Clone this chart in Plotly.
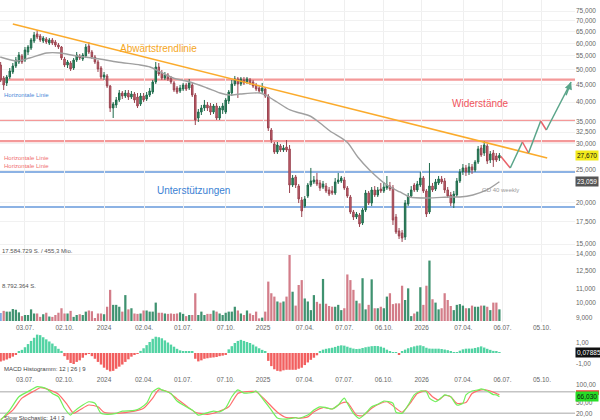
import math
import pandas as pd
import plotly.graph_objects as go

# ---------------- data ----------------
dates = pd.date_range("2023-05-08", periods=165, freq="7D")

opens = [51650, 47220, 45630, 47550, 49220, 51290, 52740, 54970, 53470, 56500,
         58080, 60970, 63980, 63090, 60970, 61800, 60130, 61390, 60550, 59300,
         58490, 53840, 51650, 52370, 50590, 53470, 54970, 53840, 54970, 58890,
         56500, 54590, 52740, 50590, 47550, 47880, 44680, 38390, 39190, 40570,
         42570, 41700, 42570, 41410, 42270, 41410, 39460, 41700, 40840, 41990,
         42860, 45940, 50940, 48880, 47220, 48210, 47220, 45630, 44070, 43160,
         43760, 44990, 44070, 44990, 41990, 35820, 37340, 38390, 39190, 38920,
         37340, 38920, 35820, 37860, 37340, 40290, 42570, 45310, 46890, 45310,
         46580, 45940, 46580, 45940, 44990, 44070, 43160, 43760, 41700, 32970,
         29930, 28330, 29530, 28720, 29320, 28920, 22550, 23840, 22390, 20330,
         19500, 20900, 22550, 23030, 23350, 22870, 22240, 22390, 21790, 21640,
         21340, 23030, 23190, 23350, 22090, 20760, 18720, 18080, 18330, 17350,
         18980, 21340, 19910, 21790, 21050, 21930, 21640, 22090, 22390, 22090,
         18080, 16420, 16190, 15750, 19780, 20900, 22550, 21790, 22550, 23670,
         21640, 18720, 22390, 21930, 22870, 23510, 23190, 21790, 21050, 19910,
         21050, 23190, 24680, 25370, 24680, 25550, 25020, 26430, 29120, 28130,
         29530, 26800, 28130, 27560, 27180]

closes = [46580, 44990, 47550, 49560, 51290, 53470, 55350, 52740, 57290, 58490,
          61390, 63530, 62660, 61390, 62230, 60550, 61390, 60130, 59300, 58490,
          54220, 51650, 52740, 50240, 53470, 55350, 54220, 55350, 58490, 56500,
          54590, 52740, 50240, 47550, 48210, 44680, 38390, 39460, 40570, 42570,
          41700, 42570, 41410, 42270, 40570, 38920, 41700, 40570, 41990, 43160,
          45940, 50940, 48540, 47220, 48210, 46890, 45940, 43460, 42860, 44070,
          44990, 43760, 45630, 41990, 35330, 37340, 38390, 39190, 38390, 37340,
          38920, 35820, 38390, 38920, 40570, 42860, 45310, 46890, 45310, 46890,
          45630, 46890, 45630, 44680, 43760, 43160, 44070, 41700, 33430, 30770,
          28330, 29730, 28720, 29120, 28720, 22550, 23670, 22550, 20480, 18850,
          20480, 22550, 23190, 23350, 22710, 22090, 22710, 21640, 21190, 21340,
          23030, 23350, 23670, 22090, 20900, 18720, 18080, 18460, 17230, 18980,
          21340, 19910, 21790, 21050, 21790, 21640, 22240, 22550, 21930, 17710,
          16300, 15860, 15640, 19910, 20900, 21790, 21790, 22710, 23670, 21640,
          18460, 22390, 21790, 23030, 23510, 23030, 21790, 20900, 19910, 21190,
          23190, 24680, 25370, 24680, 25550, 25020, 26430, 28920, 27750, 29730,
          26620, 27940, 26800, 26800, 27670]

highs = [52740, 47880, 48210, 50590, 52370, 54590, 56500, 55730, 58490, 59300,
         62230, 64880, 65780, 63980, 63090, 62660, 62230, 62230, 61390, 60130,
         58890, 54590, 53470, 53100, 54220, 56500, 55730, 56110, 59710, 60550,
         57290, 55350, 53470, 51290, 49220, 48540, 44990, 40010, 41410, 43460,
         43160, 43460, 43460, 43160, 42860, 42570, 42570, 42570, 42860, 44070,
         46580, 52740, 52370, 49900, 49220, 48880, 47880, 46260, 44680, 44990,
         45630, 45630, 46890, 45630, 42570, 38120, 39190, 40570, 40010, 39740,
         39460, 39740, 38920, 39740, 41130, 43460, 46580, 47880, 47550, 47550,
         47550, 47550, 47220, 46580, 45630, 44680, 45630, 44370, 42270, 33430,
         30350, 30350, 29930, 29730, 30770, 29730, 24170, 24170, 22710, 20760,
         20900, 22870, 25370, 24000, 24510, 23350, 23190, 22870, 22240, 22390,
         23670, 24510, 24000, 23840, 22390, 21050, 18980, 18720, 18590, 19240,
         21790, 21640, 22240, 22390, 22240, 22870, 23030, 24000, 23030, 22550,
         18460, 16760, 16530, 20330, 21340, 22390, 22870, 23190, 24680, 24000,
         21930, 26250, 22870, 23510, 24000, 24000, 23670, 22240, 21490, 21640,
         23670, 25190, 26070, 25900, 26250, 26070, 26800, 29530, 29730, 30560,
         29930, 28520, 28720, 28130, 28130]

lows = [45940, 43460, 44680, 46890, 48540, 50590, 52010, 52010, 52740, 55350,
        57290, 60130, 61800, 60550, 60130, 59710, 59300, 59300, 58490, 57680,
        53470, 50940, 50590, 49560, 49900, 52740, 53470, 53100, 54220, 55730,
        53840, 52010, 49220, 46890, 46580, 44070, 37340, 35820, 38390, 40010,
        40840, 41130, 40570, 40840, 39740, 38390, 38920, 40010, 40290, 41410,
        42270, 45310, 47880, 46580, 46580, 46260, 45310, 42860, 42270, 42570,
        43160, 43160, 43460, 41410, 34130, 34850, 36570, 37600, 37600, 36570,
        36830, 35330, 35330, 36830, 36830, 39460, 41700, 44680, 41130, 44680,
        44990, 45310, 44990, 44070, 43160, 42570, 42570, 41130, 32740, 30140,
        27940, 27940, 28330, 28330, 28330, 21340, 22240, 22090, 19910, 18080,
        19240, 20620, 22240, 22710, 22390, 21640, 21930, 21340, 20900, 21050,
        21050, 22710, 22870, 21790, 20620, 18460, 17710, 17830, 16880, 17110,
        18720, 19640, 19500, 20760, 20760, 21340, 21340, 21790, 21640, 17110,
        16080, 15530, 15220, 15430, 19500, 20620, 21490, 21490, 22240, 21340,
        18080, 18460, 21490, 21640, 22550, 22710, 21340, 20620, 19500, 19240,
        20760, 22870, 24170, 24000, 24170, 24340, 24680, 26070, 27370, 27560,
        26070, 26250, 25550, 26430, 26620]

volume_mio = [2.1, 2.7, 2.5, 2.5, 3.2, 3.0, 2.3, 1.3, 1.6, 1.6,
              3.1, 2.0, 2.0, 1.1, 1.8, 2.2, 1.2, 1.1, 1.6, 2.2,
              3.4, 2.0, 2.0, 2.7, 1.1, 1.6, 1.8, 1.6, 2.5, 2.8,
              2.6, 0.8, 2.0, 2.0, 1.8, 3.8, 8.3, 4.3, 4.3, 3.8,
              2.5, 6.9, 3.1, 3.4, 2.0, 1.9, 2.0, 2.8, 2.8, 2.5,
              2.5, 4.9, 2.2, 2.2, 2.0, 1.9, 2.0, 1.9, 2.0, 2.3,
              1.9, 1.3, 1.6, 1.6, 7.4, 1.6, 2.5, 1.6, 1.9, 1.9,
              2.8, 2.5, 2.0, 1.6, 2.2, 2.5, 2.5, 3.8, 2.8, 2.0,
              1.6, 2.8, 2.0, 1.6, 2.5, 0.7, 0.9, 2.5, 10.5, 7.4,
              6.5, 5.2, 4.9, 5.2, 6.5, 17.584729, 7.8, 4.1, 9.6, 10.9,
              6.0, 5.2, 2.9, 6.9, 5.1, 4.6, 11.2, 4.6, 4.0, 3.8,
              3.8, 4.3, 2.9, 3.4, 12.4, 10.9, 8.3, 5.4, 4.7, 11.4,
              3.1, 4.3, 11.1, 3.4, 3.4, 3.8, 3.4, 6.5, 7.4, 4.5,
              4.7, 4.7, 9.4, 5.6, 8.7, 1.3, 2.0, 2.5, 9.0, 4.3,
              9.4, 16.1, 5.8, 4.9, 3.1, 3.4, 7.4, 5.6, 4.0, 2.9,
              4.3, 4.5, 4.1, 3.4, 3.4, 4.1, 3.8, 3.8, 4.1, 4.1,
              3.8, 2.9, 4.9, 4.9, 3.1]

macd_hist = [-0.80, -0.72, -0.62, -0.50, -0.35, -0.18, 0.12, 0.30, 0.55, 0.85,
             1.15, 1.45, 1.75, 1.70, 1.50, 1.30, 1.10, 0.90, 0.65, 0.40,
             0.20, -0.30, -0.65, -0.95, -1.05, -0.85, -0.70, -0.45, -0.20, -0.05,
             -0.30, -0.55, -0.85, -1.10, -1.40, -1.60, -1.75, -1.70, -1.50, -1.30,
             -1.10, -0.85, -0.60, -0.35, -0.12, -0.05, 0.20, 0.45, 0.75, 1.05,
             1.35, 1.55, 1.50, 1.40, 1.20, 1.00, 0.80, 0.60, 0.40, 0.25,
             0.18, 0.16, 0.15, 0.10, -0.55, -0.80, -0.70, -0.55, -0.50, -0.45,
             -0.42, -0.38, -0.30, -0.25, -0.18, 0.35, 0.65, 0.95, 1.15, 1.25,
             1.15, 1.05, 0.95, 0.80, 0.62, 0.45, 0.30, 0.12, -0.75, -1.25,
             -1.55, -1.70, -1.75, -1.65, -1.60, -1.60, -1.60, -1.60, -1.50, -1.40,
             -1.15, -0.90, -0.65, -0.45, -0.22, 0.16, 0.32, 0.40, 0.45, 0.50,
             0.58, 0.68, 0.73, 0.70, 0.60, 0.50, 0.42, 0.38, 0.40, 0.48,
             0.55, 0.60, 0.65, 0.67, 0.66, 0.60, 0.50, 0.32, 0.16, 0.05,
             0.02, -0.10, 0.16, 0.32, 0.45, 0.55, 0.63, 0.70, 0.73, 0.65,
             0.50, 0.42, 0.41, 0.41, 0.41, 0.38, 0.33, 0.27, 0.16, 0.04,
             0.03, 0.22, 0.35, 0.41, 0.42, 0.42, 0.48, 0.55, 0.63, 0.52,
             0.40, 0.30, 0.20, 0.10, 0.07885]

# Stochastic readings (week index into `dates`, value)
stoch_k_week = [0, 3, 6, 10, 12, 15, 17, 19, 21, 23, 24, 27, 29, 31, 33, 35, 38, 40, 44, 46,
                48, 50, 52, 53, 56, 58, 61, 63, 65, 67, 70, 72, 74, 76, 78, 80, 83, 84, 86, 89,
                91, 94, 97, 98, 101, 103, 105, 107, 109, 111, 113, 114, 116, 118, 120, 122, 124,
                126, 129, 130, 132, 134, 136, 138, 140, 141, 143, 145, 146, 148, 150, 152, 153,
                155, 157, 158, 160, 162, 163, 164]
stoch_k = [1, 29, 66, 85, 94, 89, 75, 66, 34, 15, 24, 43, 52, 48, 20, 17, 20, 26, 28, 35,
           48, 80, 90, 85, 75, 54, 38, 29, 15, 19, 26, 24, 35, 66, 85, 76, 78, 82, 62, 29,
           7, 4, 8, 6, 15, 29, 38, 36, 32, 43, 62, 48, 20, 6, 20, 38, 45,
           54, 48, 23, 20, 43, 71, 82, 80, 62, 52, 64, 71, 66, 43, 48, 71,
           82, 85, 88, 82, 72, 71, 66.03]
stoch_d_week = [0, 4, 7, 11, 13, 16, 19, 22, 24, 26, 29, 32, 34, 38, 44, 47, 50, 52, 55, 58,
                61, 64, 68, 71, 75, 78, 81, 84, 87, 91, 94, 97, 98, 101, 103, 106, 109, 112,
                114, 117, 119, 122, 125, 127, 130, 132, 135, 137, 140, 142, 144, 146, 148, 150,
                153, 155, 157, 159, 161, 163, 164]
stoch_d = [3, 29, 62, 82, 91, 85, 73, 43, 20, 29, 43, 38, 23, 20, 26, 34, 62, 85, 80, 60,
           41, 23, 17, 23, 38, 75, 80, 80, 57, 23, 8, 8, 6, 10, 24, 36, 32, 48,
           50, 15, 13, 34, 48, 52, 34, 23, 52, 75, 82, 66, 57, 70, 66, 48,
           50, 75, 83, 86, 82, 75, 72]

# GD 40 weekly (moving average)
ma_dates = ["2023-05-07", "2023-06-15", "2023-07-14", "2023-08-22", "2023-09-21", "2023-10-30",
            "2023-12-22", "2024-01-31", "2024-03-24", "2024-04-16", "2024-05-09", "2024-06-08",
            "2024-07-17", "2024-08-25", "2024-09-24", "2024-10-17", "2024-11-09", "2024-12-25",
            "2025-01-10", "2025-02-02", "2025-03-04", "2025-03-27", "2025-04-19", "2025-05-12",
            "2025-06-04", "2025-07-13", "2025-08-07", "2025-09-03", "2025-10-13", "2025-11-12",
            "2025-12-05", "2026-01-13", "2026-03-08", "2026-03-30", "2026-04-29", "2026-05-31",
            "2026-06-29"]
ma_vals = [54590, 53100, 54220, 56110, 56110, 54970, 53840, 52740, 51650, 50940, 49220, 47220,
           45940, 44070, 42570, 41990, 42270, 42570, 41700, 40010, 37860, 37080, 36320, 34610,
           32740, 30350, 27370, 25020, 22550, 21490, 20760, 20620, 20760, 20760, 21050, 21790,
           23059]

trend_dates = ["2023-06-05", "2026-10-17"]
trend_vals = [68560, 27180]

resistances = [46700, 35100, 30550]
supports = [24680, 19370]

proj_dates = ["2026-07-02", "2026-07-24", "2026-08-21", "2026-09-04", "2026-10-02",
              "2026-10-15", "2026-12-11"]
proj_vals = [27500, 25370, 30350, 28130, 35090, 32970, 45940]

price_ticks = [9000, 10000, 11000, 12500, 14000, 15000, 17500, 20000, 25000, 30000, 32500,
               35000, 40000, 45000, 50000, 55000, 60000, 65000, 70000, 75000]
date_ticks = ["2023-07-03", "2023-10-02", "2024-01-01", "2024-04-02", "2024-07-01", "2024-10-07",
              "2025-01-01", "2025-04-07", "2025-07-07", "2025-10-06", "2026-01-01", "2026-04-07",
              "2026-07-06", "2026-10-05"]
date_labels = ["03.07.", "02.10.", "2024", "02.04.", "01.07.", "07.10.", "2025", "07.04.",
               "07.07.", "06.10.", "2026", "07.04.", "06.07.", "05.10."]

last_close = 27670
last_ma = 23059
last_macd = 0.07885
last_k = 66.03
last_d = 72.0

# ---------------- layout helpers ----------------
W, H = 600, 420
R = 25
PW = W - R
FONT = "Liberation Sans, Arial, sans-serif"


def px(x):
    return x / PW


def py(y):
    return 1 - y / H


UP_FILL, UP_LINE = "#2f8a63", "#1f6a4b"
DN_FILL, DN_LINE = "#c8636f", "#9a4450"

fig = go.Figure()

# volume
vcolors = []
for o, c in zip(opens, closes):
    vcolors.append("#3f9270" if c >= o else "#d37d89")
vcolors[0] = "#7fa8e2"
fig.add_trace(go.Bar(x=dates, y=volume_mio, marker=dict(color=vcolors, line=dict(width=0)),
                     width=7 * 24 * 3600 * 1000 * 0.74, xaxis="x", yaxis="y2",
                     showlegend=False, hoverinfo="skip"))

# candles
fig.add_trace(go.Candlestick(x=dates, open=opens, high=highs, low=lows, close=closes,
                             increasing=dict(fillcolor=UP_FILL, line=dict(color=UP_LINE, width=1)),
                             decreasing=dict(fillcolor=DN_FILL, line=dict(color=DN_LINE, width=1)),
                             whiskerwidth=0, xaxis="x", yaxis="y", showlegend=False,
                             hoverinfo="skip"))

# moving average
fig.add_trace(go.Scatter(x=ma_dates, y=ma_vals, mode="lines",
                         line=dict(color="#a0a0a0", width=1.4, shape="spline", smoothing=0.8),
                         xaxis="x", yaxis="y", showlegend=False, hoverinfo="skip"))

# trend line
fig.add_trace(go.Scatter(x=trend_dates, y=trend_vals, mode="lines",
                         line=dict(color="#fbab2c", width=1.5),
                         xaxis="x", yaxis="y", showlegend=False, hoverinfo="skip"))

# projection zigzag
for k in range(len(proj_vals) - 1):
    col = "#5aa58a" if proj_vals[k + 1] > proj_vals[k] else "#e9626a"
    fig.add_trace(go.Scatter(x=proj_dates[k:k + 2], y=proj_vals[k:k + 2], mode="lines",
                             line=dict(color=col, width=1.5), xaxis="x", yaxis="y",
                             showlegend=False, hoverinfo="skip"))

# MACD histogram
mcolors = ["#52d3a3" if v >= 0 else "#f25f5f" for v in macd_hist]
fig.add_trace(go.Bar(x=dates, y=macd_hist, marker=dict(color=mcolors, line=dict(width=0)),
                     width=7 * 24 * 3600 * 1000 * 0.8, xaxis="x2", yaxis="y3",
                     showlegend=False, hoverinfo="skip"))

# Stochastic
fig.add_trace(go.Scatter(x=[dates[i] for i in stoch_d_week], y=stoch_d, mode="lines",
                         line=dict(color="#ff6d6d", width=1.2, shape="spline", smoothing=0.6),
                         xaxis="x3", yaxis="y4", showlegend=False, hoverinfo="skip"))
fig.add_trace(go.Scatter(x=[dates[i] for i in stoch_k_week], y=stoch_k, mode="lines",
                         line=dict(color="#72f05c", width=1.2, shape="spline", smoothing=0.6),
                         xaxis="x3", yaxis="y4", showlegend=False, hoverinfo="skip"))

# ---------------- shapes ----------------
shapes = []
for v in resistances:
    shapes.append(dict(type="line", xref="paper", x0=0, x1=1, yref="y", y0=v, y1=v,
                       line=dict(color="rgba(240,110,110,0.7)", width=2.2), layer="below"))
for v in supports:
    shapes.append(dict(type="line", xref="paper", x0=0, x1=1, yref="y", y0=v, y1=v,
                       line=dict(color="rgba(74,134,212,0.85)", width=1.6), layer="below"))
for v in [volume_mio[95], volume_mio[95] / 2]:
    shapes.append(dict(type="line", xref="paper", x0=0, x1=1, yref="y2", y0=v, y1=v,
                       line=dict(color="#dcdcdc", width=1), layer="below"))
for v in [80, 20]:
    shapes.append(dict(type="line", xref="paper", x0=0, x1=1, yref="y4", y0=v, y1=v,
                       line=dict(color="#c4c4c4", width=1.5), layer="below"))
# %D value marker (mostly hidden behind the %K value box)
shapes.append(dict(type="rect", xref="paper", x0=1 + 1 / PW, x1=1 + 24 / PW, yref="y4",
                   y0=last_d - 1, y1=last_d + 12, fillcolor="#ef3b3b", line=dict(width=0),
                   layer="above"))

# ---------------- annotations ----------------
ann = []


def text(x, y, s, size, color, anchor="left"):
    ann.append(dict(x=px(x), y=py(y), xref="paper", yref="paper", text=s, showarrow=False,
                    xanchor=anchor, yanchor="middle", font=dict(size=size, color=color, family=FONT)))


text(118, 48, "Abwärtstrendlinie", 10, "#f5a623")
text(480, 103, "Widerstände", 10, "#f0545c", "center")
text(193, 191, "Unterstützungen", 10, "#3b7fd3", "center")
text(2, 95, "Horizontale Linie", 6, "#4a8ad8")
text(2, 158, "Horizontale Linie", 6, "#f07070")
text(2, 166, "Horizontale Linie", 6, "#f07070")
text(480, 190, "GD 40 weekly", 6, "#999999")
text(0, 251, "17.584.729 S. / 455,3 Mio.", 6, "#555555")
text(0, 286, "8.792.364 S.", 6, "#555555")
text(2, 369, "MACD Histogramm: 12 | 26 | 9", 6, "#444444")
text(2, 418, "Slow Stochastic: 14 | 3", 6, "#444444")


def box(yref, yval, s, bg, fg):
    ann.append(dict(x=1, xref="paper", y=yval, yref=yref, text=s, showarrow=False,
                    xanchor="left", yanchor="middle", bgcolor=bg, borderpad=1,
                    font=dict(size=6.5, color=fg, family=FONT)))


box("y", math.log10(last_close), "27,670", "#f2ea1c", "#111111")
box("y", math.log10(last_ma), "23,059", "#555555", "#ffffff")
box("y3", last_macd, "0,07885", "#111111", "#ffffff")
box("y4", last_k, "66,030", "#27dd27", "#111111")

# arrow head of projection
ann.append(dict(x=proj_dates[-1], y=math.log10(proj_vals[-1]), xref="x", yref="y",
                ax="2026-11-28", ay=math.log10(41500), axref="x", ayref="y",
                text="", showarrow=True, arrowhead=2, arrowsize=1, arrowwidth=1.5,
                arrowcolor="#5aa58a"))

# ---------------- axes ----------------
xr = ["2023-05-06 12:00", "2026-12-20"]
tickfont = dict(size=6.5, color="#666666", family=FONT)
common_x = dict(type="date", range=xr, tickvals=date_ticks, ticktext=date_labels,
                tickfont=tickfont, ticks="", showline=False, zeroline=False, domain=[0, 1])

y_top_px, y_bot_px = 0, 322
v_top = 75000 * math.exp(-(y_top_px - 11) / 144.8)
v_bot = 75000 * math.exp(-(y_bot_px - 11) / 144.8)

fig.update_layout(
    width=W, height=H, margin=dict(l=0, r=R, t=0, b=0),
    paper_bgcolor="white", plot_bgcolor="white", showlegend=False, hovermode=False,
    font=dict(family=FONT),
    xaxis=dict(common_x, anchor="y", showgrid=True, gridcolor="#efefef",
               rangeslider=dict(visible=False)),
    yaxis=dict(domain=[py(y_bot_px), py(y_top_px)], type="log",
               range=[math.log10(v_bot), math.log10(v_top)], side="right",
               tickvals=price_ticks, ticktext=[f"{v:,}" for v in price_ticks],
               tickfont=tickfont, showgrid=True, gridcolor="#f1f1f1", zeroline=False,
               anchor="x", ticks=""),
    yaxis2=dict(domain=[py(321), py(255)], range=[0, volume_mio[95]], visible=False,
                anchor="x", fixedrange=True),
    xaxis2=dict(common_x, anchor="y3", matches="x", showgrid=False),
    yaxis3=dict(domain=[py(374), py(330)], range=[-2.0, 2.19], side="right", tickvals=[-1, 1],
                ticktext=["-1,00", "1,00"], tickfont=tickfont, showgrid=False, zeroline=False,
                anchor="x2", ticks=""),
    xaxis3=dict(common_x, anchor="y4", matches="x", showgrid=False, showticklabels=False),
    yaxis4=dict(domain=[0, py(382)], range=[1.4, 106.9], side="right", tickvals=[20, 50, 100],
                ticktext=["20,00", "50,00", "100,00"], tickfont=tickfont, showgrid=False,
                zeroline=False, anchor="x3", ticks=""),
    shapes=shapes, annotations=ann,
)

fig.write_html("out.html")
